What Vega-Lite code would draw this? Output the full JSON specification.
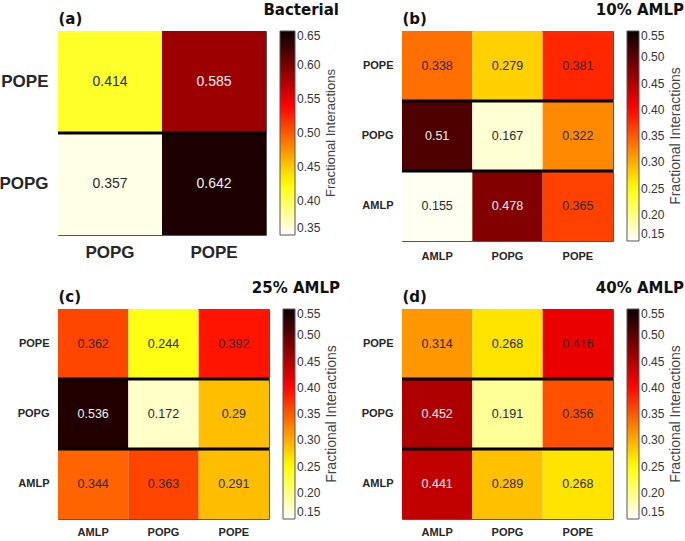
{
  "$schema": "https://vega.github.io/schema/vega-lite/v6.json",
  "padding": {"left": -2, "top": 2, "right": 0, "bottom": 0},
  "background": "white",
  "config": {
    "font": "Liberation Sans",
    "view": {"stroke": "#555555", "strokeWidth": 1},
    "scale": {"bandPaddingInner": 0, "bandPaddingOuter": 0},
    "axis": {"labelColor": "#262626", "ticks": false, "domain": false, "labelFontWeight": "bold", "labelAngle": 0},
    "legend": {"labelColor": "#333333", "labelFontSize": 12, "titleFontSize": 13, "titleFontWeight": "normal", "titleColor": "#444444", "gradientStrokeColor": "#555555", "gradientStrokeWidth": 1, "offset": 14},
    "title": {"font": "DejaVu Sans", "fontWeight": "bold", "fontSize": 15, "color": "#111111"}
  },
  "datasets": {
    "a": [
      {"row": "POPE", "col": "POPG", "v": 0.414},
      {"row": "POPE", "col": "POPE", "v": 0.585},
      {"row": "POPG", "col": "POPG", "v": 0.357},
      {"row": "POPG", "col": "POPE", "v": 0.642}
    ],
    "b": [
      {"row": "POPE", "col": "AMLP", "v": 0.338},
      {"row": "POPE", "col": "POPG", "v": 0.279},
      {"row": "POPE", "col": "POPE", "v": 0.381},
      {"row": "POPG", "col": "AMLP", "v": 0.51},
      {"row": "POPG", "col": "POPG", "v": 0.167},
      {"row": "POPG", "col": "POPE", "v": 0.322},
      {"row": "AMLP", "col": "AMLP", "v": 0.155},
      {"row": "AMLP", "col": "POPG", "v": 0.478},
      {"row": "AMLP", "col": "POPE", "v": 0.365}
    ],
    "c": [
      {"row": "POPE", "col": "AMLP", "v": 0.362},
      {"row": "POPE", "col": "POPG", "v": 0.244},
      {"row": "POPE", "col": "POPE", "v": 0.392},
      {"row": "POPG", "col": "AMLP", "v": 0.536},
      {"row": "POPG", "col": "POPG", "v": 0.172},
      {"row": "POPG", "col": "POPE", "v": 0.29},
      {"row": "AMLP", "col": "AMLP", "v": 0.344},
      {"row": "AMLP", "col": "POPG", "v": 0.363},
      {"row": "AMLP", "col": "POPE", "v": 0.291}
    ],
    "d": [
      {"row": "POPE", "col": "AMLP", "v": 0.314},
      {"row": "POPE", "col": "POPG", "v": 0.268},
      {"row": "POPE", "col": "POPE", "v": 0.416},
      {"row": "POPG", "col": "AMLP", "v": 0.452},
      {"row": "POPG", "col": "POPG", "v": 0.191},
      {"row": "POPG", "col": "POPE", "v": 0.356},
      {"row": "AMLP", "col": "AMLP", "v": 0.441},
      {"row": "AMLP", "col": "POPG", "v": 0.289},
      {"row": "AMLP", "col": "POPE", "v": 0.268}
    ],
    "ra": [{"r": "POPG"}],
    "rb": [{"r": "POPG"}, {"r": "AMLP"}]
  },
  "resolve": {"scale": {"color": "independent"}, "legend": {"color": "independent"}},
  "columns": 2,
  "spacing": {"row": 18, "column": 19},
  "concat": [
    {
      "title": {"text": "Bacterial", "anchor": "end", "offset": -7},
      "width": 208, "height": 204,
      "resolve": {"axis": {"x": "independent"}},
      "layer": [
        {
          "data": {"name": "a"},
          "mark": {"type": "rect"},
          "encoding": {
            "x": {"field": "col", "type": "nominal", "sort": null, "scale": {"domain": ["POPG", "POPE"]}, "axis": {"title": null, "labelFontSize": 17, "labelPadding": 9}},
            "y": {"field": "row", "type": "nominal", "sort": null, "scale": {"domain": ["POPE", "POPG"]}, "axis": {"title": null, "labelFontSize": 17, "labelPadding": 10}},
            "color": {"field": "v", "type": "quantitative",
              "scale": {"domain": [0.35, 0.4262, 0.5405, 0.65], "range": ["#ffffff", "#ffff00", "#ff0000", "#0b0000"], "interpolate": "rgb"},
              "legend": {"title": "Fractional Interactions", "titleOrient": "right", "titleAnchor": "middle", "titleFontSize": 13, "values": [0.35, 0.4, 0.45, 0.5, 0.55, 0.6, 0.65], "format": ".2f", "gradientLength": 204, "gradientThickness": 15,
                "encode": {"title": {"update": {"angle": {"value": 270}, "baseline": {"value": "top"}, "align": {"value": "center"}}}}}}
          }
        },
        {
          "data": {"name": "a"},
          "mark": {"type": "text", "fontSize": 14},
          "encoding": {
            "x": {"field": "col", "type": "nominal", "sort": null, "axis": {"orient": "top", "labels": false, "title": "(a)", "titleAnchor": "start", "titleFont": "DejaVu Sans", "titleFontWeight": "bold", "titleFontSize": 15, "titleColor": "#111111", "titlePadding": 5}},
            "y": {"field": "row", "type": "nominal", "sort": null},
            "text": {"field": "v", "type": "nominal"},
            "color": {"condition": {"test": "datum.v > 0.5", "value": "#f2f2f2"}, "value": "#2a2a2a"}
          }
        },
        {
          "data": {"name": "ra"},
          "mark": {"type": "rule", "strokeWidth": 3, "color": "#000000"},
          "encoding": {"y": {"field": "r", "type": "nominal", "sort": null, "bandPosition": 0}}
        }
      ]
    },
    {
      "title": {"text": "10% AMLP", "anchor": "end", "offset": -7},
      "width": 211, "height": 210,
      "resolve": {"axis": {"x": "independent"}},
      "layer": [
        {
          "data": {"name": "b"},
          "mark": {"type": "rect"},
          "encoding": {
            "x": {"field": "col", "type": "nominal", "sort": null, "scale": {"domain": ["AMLP", "POPG", "POPE"]}, "axis": {"title": null, "labelFontSize": 11, "labelPadding": 9}},
            "y": {"field": "row", "type": "nominal", "sort": null, "scale": {"domain": ["POPE", "POPG", "AMLP"]}, "axis": {"title": null, "labelFontSize": 11, "labelPadding": 9}},
            "color": {"field": "v", "type": "quantitative",
              "scale": {"domain": [0.15, 0.2516, 0.404, 0.55], "range": ["#ffffff", "#ffff00", "#ff0000", "#0b0000"], "interpolate": "rgb"},
              "legend": {"title": "Fractional Interactions", "titleOrient": "right", "titleAnchor": "middle", "titleFontSize": 14, "values": [0.15, 0.2, 0.25, 0.3, 0.35, 0.4, 0.45, 0.5, 0.55], "format": ".2f", "gradientLength": 210, "gradientThickness": 12,
                "encode": {"title": {"update": {"angle": {"value": 270}, "baseline": {"value": "top"}, "align": {"value": "center"}}}}}}
          }
        },
        {
          "data": {"name": "b"},
          "mark": {"type": "text", "fontSize": 12.5},
          "encoding": {
            "x": {"field": "col", "type": "nominal", "sort": null, "axis": {"orient": "top", "labels": false, "title": "(b)", "titleAnchor": "start", "titleFont": "DejaVu Sans", "titleFontWeight": "bold", "titleFontSize": 15, "titleColor": "#111111", "titlePadding": 5}},
            "y": {"field": "row", "type": "nominal", "sort": null},
            "text": {"field": "v", "type": "nominal"},
            "color": {"condition": {"test": "datum.v > 0.43", "value": "#f2f2f2"}, "value": "#2a2a2a"}
          }
        },
        {
          "data": {"name": "rb"},
          "mark": {"type": "rule", "strokeWidth": 3, "color": "#000000"},
          "encoding": {"y": {"field": "r", "type": "nominal", "sort": null, "bandPosition": 0}}
        }
      ]
    },
    {
      "title": {"text": "25% AMLP", "anchor": "end", "offset": -7},
      "width": 211, "height": 210,
      "resolve": {"axis": {"x": "independent"}},
      "layer": [
        {
          "data": {"name": "c"},
          "mark": {"type": "rect"},
          "encoding": {
            "x": {"field": "col", "type": "nominal", "sort": null, "scale": {"domain": ["AMLP", "POPG", "POPE"]}, "axis": {"title": null, "labelFontSize": 11, "labelPadding": 7}},
            "y": {"field": "row", "type": "nominal", "sort": null, "scale": {"domain": ["POPE", "POPG", "AMLP"]}, "axis": {"title": null, "labelFontSize": 11, "labelPadding": 9}},
            "color": {"field": "v", "type": "quantitative",
              "scale": {"domain": [0.15, 0.2516, 0.404, 0.55], "range": ["#ffffff", "#ffff00", "#ff0000", "#0b0000"], "interpolate": "rgb"},
              "legend": {"title": "Fractional Interactions", "titleOrient": "right", "titleAnchor": "middle", "titleFontSize": 14, "values": [0.15, 0.2, 0.25, 0.3, 0.35, 0.4, 0.45, 0.5, 0.55], "format": ".2f", "gradientLength": 210, "gradientThickness": 12,
                "encode": {"title": {"update": {"angle": {"value": 270}, "baseline": {"value": "top"}, "align": {"value": "center"}}}}}}
          }
        },
        {
          "data": {"name": "c"},
          "mark": {"type": "text", "fontSize": 12.5},
          "encoding": {
            "x": {"field": "col", "type": "nominal", "sort": null, "axis": {"orient": "top", "labels": false, "title": "(c)", "titleAnchor": "start", "titleFont": "DejaVu Sans", "titleFontWeight": "bold", "titleFontSize": 15, "titleColor": "#111111", "titlePadding": 5}},
            "y": {"field": "row", "type": "nominal", "sort": null},
            "text": {"field": "v", "type": "nominal"},
            "color": {"condition": {"test": "datum.v > 0.43", "value": "#f2f2f2"}, "value": "#2a2a2a"}
          }
        },
        {
          "data": {"name": "rb"},
          "mark": {"type": "rule", "strokeWidth": 3, "color": "#000000"},
          "encoding": {"y": {"field": "r", "type": "nominal", "sort": null, "bandPosition": 0}}
        }
      ]
    },
    {
      "title": {"text": "40% AMLP", "anchor": "end", "offset": -7},
      "width": 211, "height": 210,
      "resolve": {"axis": {"x": "independent"}},
      "layer": [
        {
          "data": {"name": "d"},
          "mark": {"type": "rect"},
          "encoding": {
            "x": {"field": "col", "type": "nominal", "sort": null, "scale": {"domain": ["AMLP", "POPG", "POPE"]}, "axis": {"title": null, "labelFontSize": 11, "labelPadding": 7}},
            "y": {"field": "row", "type": "nominal", "sort": null, "scale": {"domain": ["POPE", "POPG", "AMLP"]}, "axis": {"title": null, "labelFontSize": 11, "labelPadding": 9}},
            "color": {"field": "v", "type": "quantitative",
              "scale": {"domain": [0.15, 0.2516, 0.404, 0.55], "range": ["#ffffff", "#ffff00", "#ff0000", "#0b0000"], "interpolate": "rgb"},
              "legend": {"title": "Fractional Interactions", "titleOrient": "right", "titleAnchor": "middle", "titleFontSize": 14, "values": [0.15, 0.2, 0.25, 0.3, 0.35, 0.4, 0.45, 0.5, 0.55], "format": ".2f", "gradientLength": 210, "gradientThickness": 12,
                "encode": {"title": {"update": {"angle": {"value": 270}, "baseline": {"value": "top"}, "align": {"value": "center"}}}}}}
          }
        },
        {
          "data": {"name": "d"},
          "mark": {"type": "text", "fontSize": 12.5},
          "encoding": {
            "x": {"field": "col", "type": "nominal", "sort": null, "axis": {"orient": "top", "labels": false, "title": "(d)", "titleAnchor": "start", "titleFont": "DejaVu Sans", "titleFontWeight": "bold", "titleFontSize": 15, "titleColor": "#111111", "titlePadding": 5}},
            "y": {"field": "row", "type": "nominal", "sort": null},
            "text": {"field": "v", "type": "nominal"},
            "color": {"condition": {"test": "datum.v > 0.43", "value": "#f2f2f2"}, "value": "#2a2a2a"}
          }
        },
        {
          "data": {"name": "rb"},
          "mark": {"type": "rule", "strokeWidth": 3, "color": "#000000"},
          "encoding": {"y": {"field": "r", "type": "nominal", "sort": null, "bandPosition": 0}}
        }
      ]
    }
  ]
}
